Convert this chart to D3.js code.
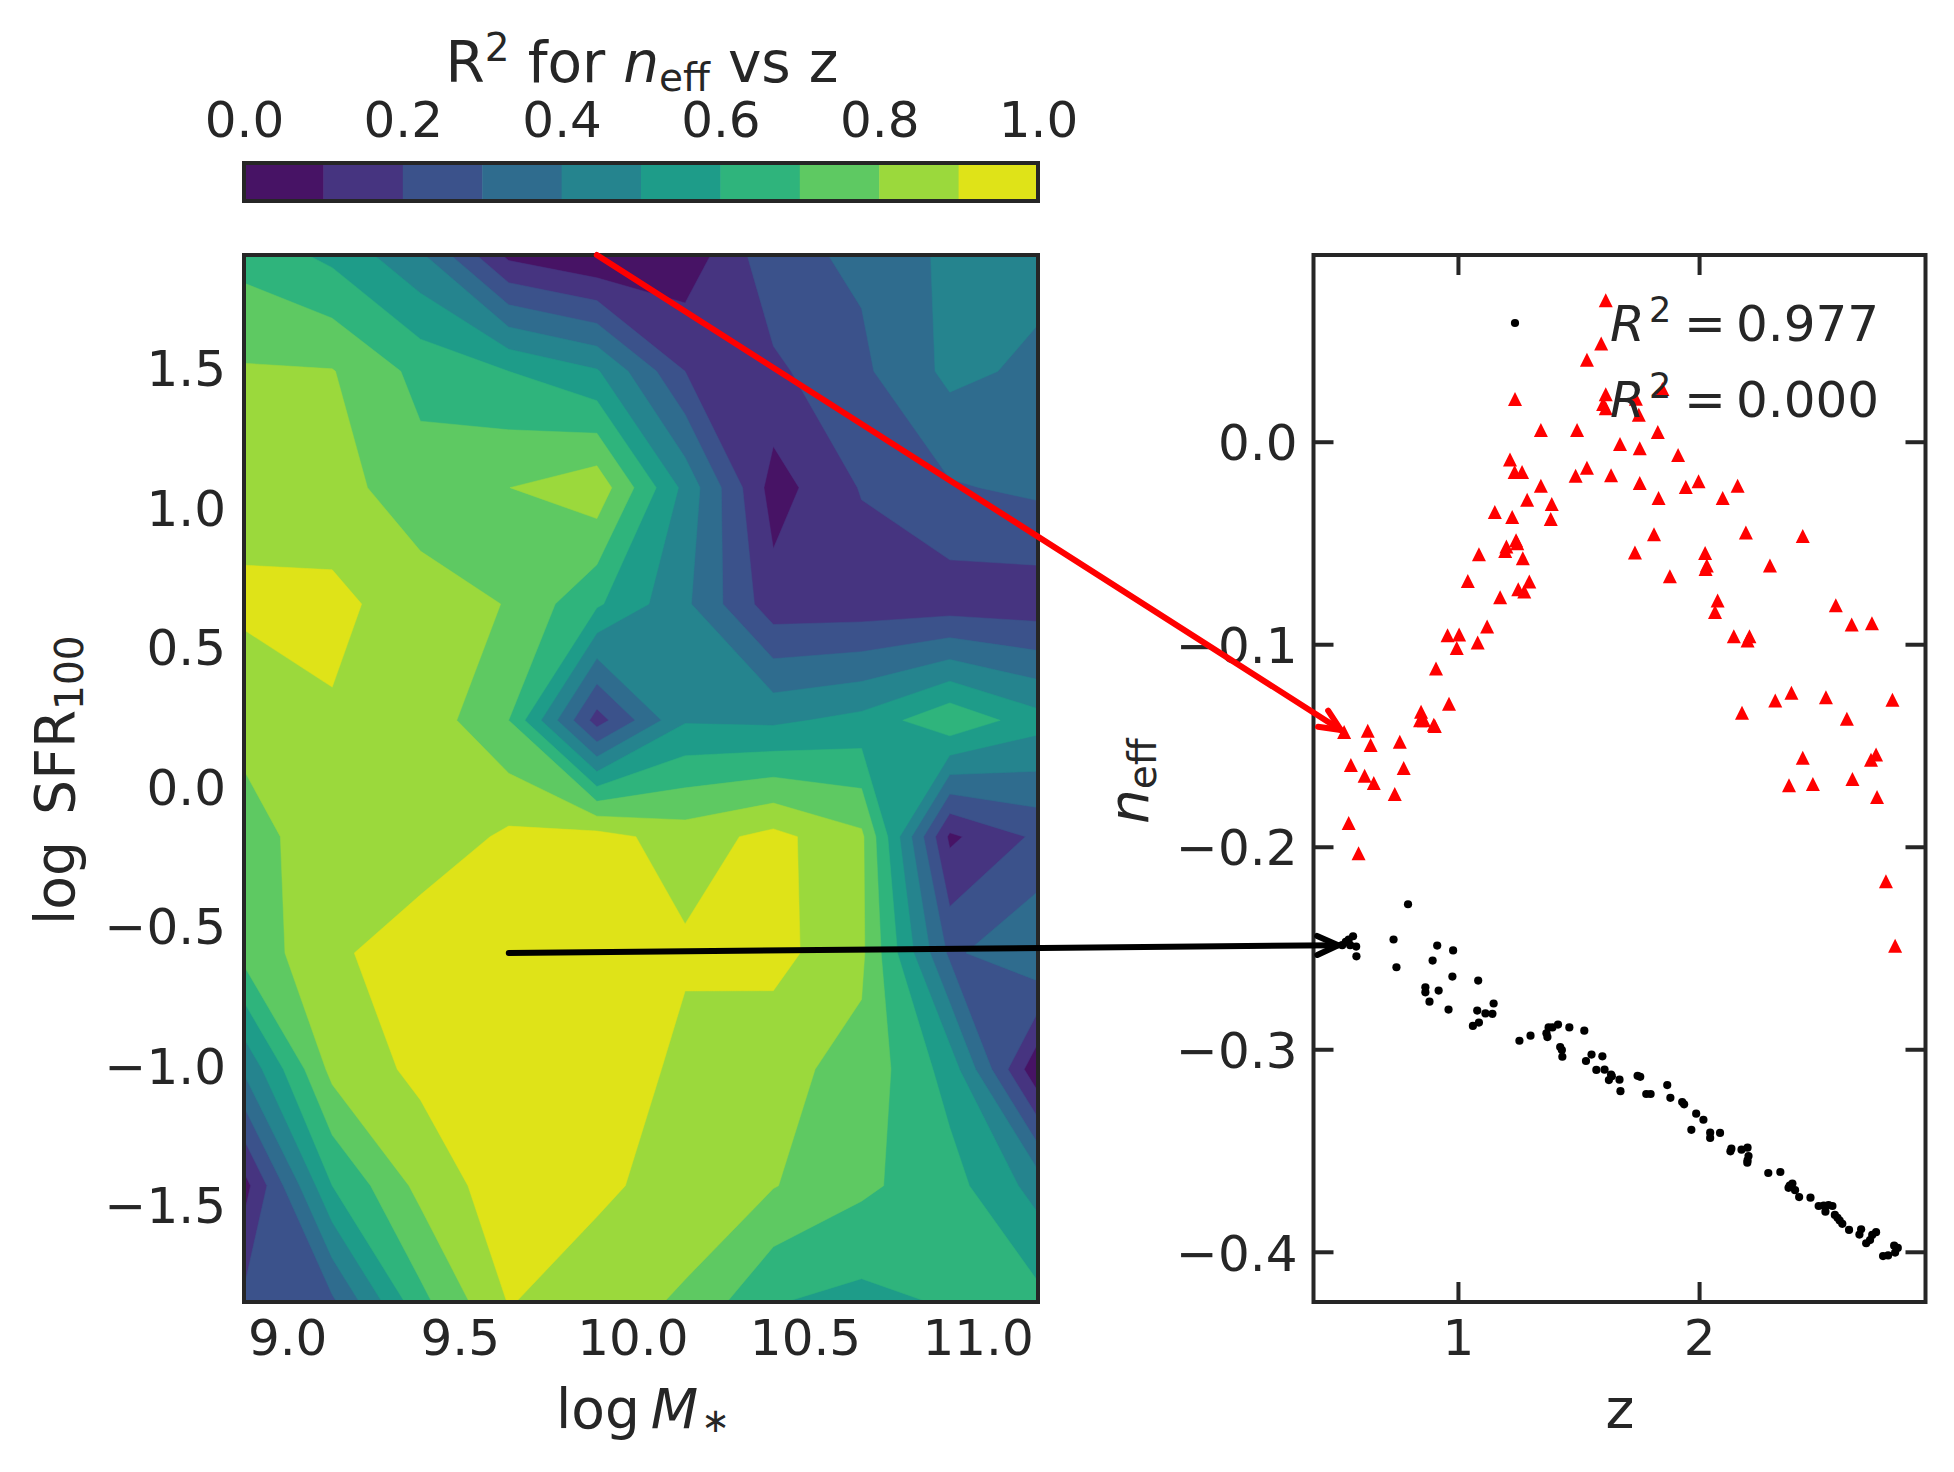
<!DOCTYPE html>
<html>
<head>
<meta charset="utf-8">
<script src="https://cdn.jsdelivr.net/npm/d3@7"></script>
<style>
  body { margin: 0; background: #fff; }
  text { font-family: "DejaVu Sans", sans-serif; fill: #262626; }
</style>
</head>
<body>
<svg id="fig" width="1954" height="1472"></svg>
<script>
"use strict";
const WIDTH = 1954;
const HEIGHT = 1472;
const TICK_FONT = 50;
const LABEL_FONT = 55;
const INK = '#262626';
const SPINE = 4;

// R2 grid, first row is the top of the map
const massGrid = [8.875, 9.131, 9.386, 9.642, 9.897, 10.153, 10.409, 10.664, 10.920, 11.175];
const sfrGrid = [1.904, 1.487, 1.070, 0.653, 0.236, -0.181, -0.598, -1.015, -1.432, -1.849];
const r2Grid = [
  [0.665, 0.575, 0.417, 0.075, 0.000, 0.030, 0.272, 0.317, 0.423, 0.430],
  [0.810, 0.805, 0.670, 0.600, 0.510, 0.200, 0.180, 0.280, 0.424, 0.380],
  [0.860, 0.840, 0.740, 0.799, 0.867, 0.470, 0.056, 0.207, 0.290, 0.320],
  [0.920, 0.925, 0.850, 0.795, 0.615, 0.420, 0.140, 0.140, 0.145, 0.140],
  [0.830, 0.890, 0.870, 0.700, 0.155, 0.490, 0.480, 0.530, 0.680, 0.540],
  [0.760, 0.857, 0.825, 0.920, 0.938, 0.852, 0.930, 0.820, 0.080, 0.220],
  [0.735, 0.875, 0.975, 0.977, 0.980, 0.916, 0.935, 0.820, 0.280, 0.390],
  [0.415, 0.830, 0.925, 0.990, 0.990, 0.867, 0.827, 0.770, 0.560, 0.015],
  [0.060, 0.600, 0.830, 0.960, 0.920, 0.858, 0.805, 0.720, 0.640, 0.460],
  [0.220, 0.280, 0.670, 0.905, 0.845, 0.786, 0.605, 0.570, 0.610, 0.630]
];
const levels = [0, 0.1, 0.2, 0.3, 0.4, 0.5, 0.6, 0.7, 0.8, 0.9, 1.0];

const massTicks = [9, 9.5, 10, 10.5, 11];
const sfrTicks = [-1.5, -1, -0.5, 0, 0.5, 1, 1.5];
const barTicks = [0, 0.2, 0.4, 0.6, 0.8, 1];
const zTicks = [1, 2];
const neffTicks = [0, -0.1, -0.2, -0.3, -0.4];

// black points
const zBlack = [0.793,0.565,0.547,0.535,0.520,0.553,0.578,0.579,0.733,0.745,0.914,0.980,0.895,0.977,0.865,0.865,0.920,0.882,0.961,1.084,1.148,1.080,1.114,1.143,1.087,1.062,1.255,1.301,1.367,1.371,1.376,1.392,1.415,1.462,1.524,1.424,1.431,1.433,1.554,1.531,1.599,1.574,1.608,1.635,1.638,1.626,1.670,1.674,1.745,1.756,1.781,1.799,1.868,1.881,1.930,1.938,1.988,2.018,1.968,2.046,2.046,2.087,2.134,2.130,2.176,2.201,2.205,2.201,2.200,2.287,2.337,2.387,2.376,2.371,2.398,2.415,2.462,2.496,2.517,2.537,2.553,2.524,2.563,2.574,2.583,2.594,2.622,2.672,2.665,2.734,2.718,2.709,2.693,2.809,2.824,2.813,2.784,2.763];
const neffBlack = [-0.2284,-0.2442,-0.2458,-0.2470,-0.2486,-0.2486,-0.2493,-0.2541,-0.2458,-0.2595,-0.2488,-0.2512,-0.2562,-0.2641,-0.2694,-0.2719,-0.2710,-0.2765,-0.2804,-0.2661,-0.2774,-0.2809,-0.2823,-0.2825,-0.2868,-0.2885,-0.2958,-0.2933,-0.2921,-0.2940,-0.2892,-0.2892,-0.2878,-0.2892,-0.2908,-0.2989,-0.3004,-0.3037,-0.3026,-0.3058,-0.3035,-0.3102,-0.3101,-0.3125,-0.3133,-0.3152,-0.3150,-0.3207,-0.3131,-0.3136,-0.3221,-0.3221,-0.3177,-0.3240,-0.3261,-0.3272,-0.3318,-0.3348,-0.3398,-0.3412,-0.3438,-0.3413,-0.3491,-0.3504,-0.3496,-0.3486,-0.3527,-0.3549,-0.3560,-0.3611,-0.3606,-0.3663,-0.3673,-0.3684,-0.3696,-0.3730,-0.3733,-0.3774,-0.3772,-0.3769,-0.3774,-0.3802,-0.3818,-0.3832,-0.3846,-0.3862,-0.3892,-0.3889,-0.3915,-0.3903,-0.3917,-0.3942,-0.3958,-0.3970,-0.3981,-0.4004,-0.4018,-0.4021];

// red triangles
const zRed = [1.613,1.594,1.535,1.848,1.613,1.738,1.602,1.613,1.750,1.344,1.494,1.829,1.672,1.754,1.913,1.216,1.235,1.266,1.535,1.488,1.635,1.344,1.754,1.998,1.945,2.160,1.832,2.098,1.287,1.389,1.153,1.225,1.385,1.813,2.194,2.430,1.241,1.246,1.201,1.196,1.087,1.734,1.269,2.025,2.032,2.027,1.041,1.879,2.294,1.296,1.250,1.275,1.175,2.077,2.066,2.567,1.121,2.633,2.717,0.957,1.005,1.082,0.995,2.144,2.209,2.201,0.909,0.963,0.847,0.843,0.859,0.900,0.904,2.383,2.316,2.526,2.802,2.178,2.613,0.528,0.626,0.638,0.759,2.430,2.734,2.713,0.556,0.775,0.613,0.651,2.373,2.472,2.636,0.738,2.738,0.547,0.588,2.775,2.813];
const neffRed = [0.0699,0.0485,0.0405,0.0260,0.0235,0.0212,0.0186,0.0165,0.0133,0.0058,0.0058,0.0048,-0.0011,-0.0032,-0.0065,-0.0088,-0.0150,-0.0150,-0.0129,-0.0168,-0.0165,-0.0218,-0.0204,-0.0195,-0.0223,-0.0218,-0.0278,-0.0278,-0.0287,-0.0308,-0.0347,-0.0372,-0.0382,-0.0457,-0.0448,-0.0465,-0.0487,-0.0501,-0.0517,-0.0540,-0.0556,-0.0547,-0.0575,-0.0550,-0.0611,-0.0628,-0.0688,-0.0664,-0.0611,-0.0690,-0.0729,-0.0740,-0.0768,-0.0784,-0.0841,-0.0807,-0.0912,-0.0903,-0.0897,-0.0956,-0.0952,-0.0991,-0.1018,-0.0961,-0.0961,-0.0982,-0.1120,-0.1294,-0.1333,-0.1375,-0.1375,-0.1398,-0.1404,-0.1239,-0.1278,-0.1262,-0.1274,-0.1338,-0.1368,-0.1434,-0.1427,-0.1497,-0.1481,-0.1561,-0.1545,-0.1570,-0.1596,-0.1611,-0.1650,-0.1685,-0.1696,-0.1690,-0.1665,-0.1740,-0.1754,-0.1883,-0.2032,-0.2170,-0.2489];

const svg = d3.select('#fig');
svg.append('rect').attr('width', WIDTH).attr('height', HEIGHT).attr('fill', '#fff');

const boxL = {left: 244, right: 1038, top: 255, bottom: 1302};
const boxR = {left: 1313.5, right: 1925.5, top: 255, bottom: 1302};
const boxC = {left: 244, right: 1038, top: 163, bottom: 201};

const xMass = d3.scaleLinear().domain([massGrid[0], massGrid[9]]).range([boxL.left, boxL.right]);
const ySfr = d3.scaleLinear().domain([sfrGrid[9], sfrGrid[0]]).range([boxL.bottom, boxL.top]);
const xZ = d3.scaleLinear().domain([0.401, 2.939]).range([boxR.left, boxR.right]);
const yN = d3.scaleLinear().domain([-0.4248, 0.0922]).range([boxR.bottom, boxR.top]);
const xBar = d3.scaleLinear().domain([0, 1]).range([boxC.left, boxC.right]);

const bandColor = i => d3.interpolateViridis((levels[i] + levels[i + 1]) / 2);

// contour map
svg.append('clipPath').attr('id', 'mapClip').append('rect')
  .attr('x', boxL.left).attr('y', boxL.top)
  .attr('width', boxL.right - boxL.left).attr('height', boxL.bottom - boxL.top);

const contours = d3.contours()
  .size([massGrid.length, sfrGrid.length])
  .thresholds(levels.slice(0, -1))(r2Grid.flat());

// d3 puts grid values on cell centres, so index i sits at i + 0.5
const ix = d3.scaleLinear().domain([0.5, massGrid.length - 0.5]).range([xMass(massGrid[0]), xMass(massGrid[9])]);
const iy = d3.scaleLinear().domain([0.5, sfrGrid.length - 0.5]).range([ySfr(sfrGrid[0]), ySfr(sfrGrid[9])]);
const mapPath = d3.geoPath(d3.geoTransform({
  point(x, y) { this.stream.point(ix(x), iy(y)); }
}));

svg.append('g').attr('clip-path', 'url(#mapClip)')
  .selectAll('path')
  .data(contours)
  .join('path')
  .attr('d', mapPath)
  .attr('fill', (d, i) => bandColor(i))
  .attr('stroke', (d, i) => bandColor(i))
  .attr('stroke-width', 0.5);

// colorbar
svg.append('g').selectAll('rect')
  .data(d3.range(levels.length - 1))
  .join('rect')
  .attr('x', i => xBar(levels[i]))
  .attr('y', boxC.top)
  .attr('width', i => xBar(levels[i + 1]) - xBar(levels[i]) + 0.5)
  .attr('height', boxC.bottom - boxC.top)
  .attr('fill', bandColor);

function frame(b){
  svg.append('rect')
    .attr('x', b.left).attr('y', b.top)
    .attr('width', b.right - b.left).attr('height', b.bottom - b.top)
    .attr('fill', 'none')
    .attr('stroke', INK)
    .attr('stroke-width', SPINE);
}

function styleAxis(g){
  g.select('.domain').remove();
  g.selectAll('text').style('font-size', TICK_FONT + 'px').attr('fill', INK);
  g.selectAll('line').attr('stroke', INK).attr('stroke-width', SPINE);
}
// matplotlib centres y tick labels on the digit height
const centerY = g => g.selectAll('text').attr('dy', '0.365em');

const f1 = d3.format('.1f');

svg.append('g').attr('transform', `translate(0,${boxL.bottom})`)
  .call(d3.axisBottom(xMass).tickValues(massTicks).tickFormat(f1).tickSize(0).tickPadding(17.5))
  .call(styleAxis);
svg.append('g').attr('transform', `translate(${boxL.left},0)`)
  .call(d3.axisLeft(ySfr).tickValues(sfrTicks).tickFormat(f1).tickSize(0).tickPadding(18))
  .call(styleAxis)
  .call(centerY);
svg.append('g').attr('transform', `translate(0,${boxC.top})`)
  .call(d3.axisTop(xBar).tickValues(barTicks).tickFormat(f1).tickSize(0).tickPadding(26))
  .call(styleAxis);

// right panel ticks point inward on all sides
svg.append('g').attr('transform', `translate(0,${boxR.bottom})`)
  .call(d3.axisBottom(xZ).tickValues(zTicks).tickFormat(d3.format('d')).tickSizeInner(-20).tickSizeOuter(0).tickPadding(17.5))
  .call(styleAxis);
svg.append('g').attr('transform', `translate(0,${boxR.top})`)
  .call(d3.axisTop(xZ).tickValues(zTicks).tickFormat('').tickSizeInner(-20).tickSizeOuter(0))
  .call(styleAxis);
svg.append('g').attr('transform', `translate(${boxR.left},0)`)
  .call(d3.axisLeft(yN).tickValues(neffTicks).tickFormat(f1).tickSizeInner(-20).tickSizeOuter(0).tickPadding(16))
  .call(styleAxis)
  .call(centerY);
svg.append('g').attr('transform', `translate(${boxR.right},0)`)
  .call(d3.axisRight(yN).tickValues(neffTicks).tickFormat('').tickSizeInner(-20).tickSizeOuter(0))
  .call(styleAxis);

// points
const TRI = 'M0,-7 L7,7 L-7,7 Z';
svg.append('g').selectAll('path')
  .data(d3.range(zRed.length))
  .join('path')
  .attr('d', TRI)
  .attr('transform', i => `translate(${xZ(zRed[i])},${yN(neffRed[i])})`)
  .attr('fill', '#f00');
svg.append('g').selectAll('circle')
  .data(d3.range(zBlack.length))
  .join('circle')
  .attr('r', 4.1)
  .attr('cx', i => xZ(zBlack[i]))
  .attr('cy', i => yN(neffBlack[i]))
  .attr('fill', '#000');

frame(boxL);
frame(boxR);
frame(boxC);

// labels
const SUB = 39;
svg.append('text')
  .attr('x', 642).attr('y', 82).attr('text-anchor', 'middle').style('font-size', '56.5px')
  .html(`R<tspan dy="-21" font-size="${SUB}">2</tspan><tspan dy="21"> for </tspan><tspan font-style="italic">n</tspan><tspan dy="9" font-size="${SUB}">eff</tspan><tspan dy="-9"> vs z</tspan>`);
svg.append('text')
  .attr('x', 556).attr('y', 1427.5).style('font-size', LABEL_FONT + 'px')
  .html(`log<tspan font-style="italic" dx="11">M</tspan><tspan dx="3" dy="4" font-size="34">∗</tspan>`);
svg.append('text')
  .attr('transform', 'translate(73.5,925) rotate(-90)').style('font-size', LABEL_FONT + 'px')
  .html(`log <tspan dx="9">SFR</tspan><tspan dy="9" font-size="${SUB}">100</tspan>`);
svg.append('text')
  .attr('x', 1620).attr('y', 1427.5).attr('text-anchor', 'middle').style('font-size', LABEL_FONT + 'px')
  .text('z');
svg.append('text')
  .attr('transform', 'translate(1147.5,824) rotate(-90)').style('font-size', LABEL_FONT + 'px')
  .html(`<tspan font-style="italic">n</tspan><tspan dy="8.5" font-size="${SUB}">eff</tspan>`);

// legend
const legendRows = ['0.977', '0.000'];
const legendY = [341, 417];
legendRows.forEach((val, i) => {
  svg.append('text')
    .attr('y', legendY[i]).style('font-size', TICK_FONT + 'px')
    .html(`<tspan x="1610" font-style="italic">R</tspan><tspan x="1649" dy="-19" font-size="35">2</tspan><tspan x="1684" dy="19">=</tspan><tspan x="1736">${val}</tspan>`);
});
svg.append('circle').attr('cx', 1515).attr('cy', 323).attr('r', 4.1).attr('fill', '#000');
svg.append('path').attr('d', TRI).attr('transform', 'translate(1515,399)').attr('fill', '#f00');

// connection arrows, start on a map cell and end on the first point of each series
function arrow(x0, y0, x1, y1, color){
  const a = Math.atan2(y1 - y0, x1 - x0);
  const tx = x1 - 4 * Math.cos(a);
  const ty = y1 - 4 * Math.sin(a);
  const back = 21;
  const wing = 9.5;
  const bx = tx - back * Math.cos(a);
  const by = ty - back * Math.sin(a);
  const g = svg.append('g').attr('fill', 'none').attr('stroke', color).attr('stroke-width', 6).attr('stroke-linecap', 'round').attr('stroke-linejoin', 'round');
  g.append('path').attr('d', d3.line()([[x0, y0], [tx, ty]]));
  g.append('path').attr('d', d3.line()([
    [bx - wing * Math.sin(a), by + wing * Math.cos(a)],
    [tx, ty],
    [bx + wing * Math.sin(a), by - wing * Math.cos(a)]
  ]));
}
arrow(xMass(massGrid[4]), ySfr(sfrGrid[0]), xZ(zRed[79]), yN(neffRed[79]), '#f00');
arrow(xMass(massGrid[3]), ySfr(sfrGrid[6]), xZ(zBlack[4]), yN(neffBlack[4]), '#000');
</script>
</body>
</html>
